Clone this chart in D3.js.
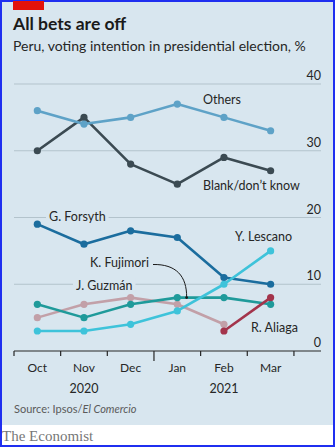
<!DOCTYPE html>
<html>
<head>
<meta charset="utf-8">
<script src="https://cdn.jsdelivr.net/npm/d3@7"></script>
<style>
  html, body { margin: 0; padding: 0; background: #fff; }
  svg { display: block; }
  text { font-family: Lato, "Open Sans", sans-serif; }
</style>
</head>
<body>
<div id="chart"></div>
<script>
// Monthly polls, Oct 2020 – Mar 2021
const months = ["Oct", "Nov", "Dec", "Jan", "Feb", "Mar"];
const yTicks = [0, 10, 20, 30, 40];

const others    = [36, 34, 35, 37, 35, 33];
const blank     = [30, 35, 28, 25, 29, 27];
const forsyth   = [19, 16, 18, 17, 11, 10];
const fujimori  = [7, 5, 7, 8, 8, 7];
const guzman    = [5, 7, 8, 7, 4, null];
const lescano   = [3, 3, 4, 6, 10, 15];
const aliaga    = [null, null, null, null, 3, 8];

const W = 335, H = 447;
const bg = "#d8e6ef";

const svg = d3.select("#chart").append("svg")
  .attr("width", W).attr("height", H);

svg.append("rect").attr("width", W).attr("height", H).attr("fill", "#fff");
svg.append("rect").attr("width", W).attr("height", 425).attr("fill", bg);

svg.append("text").attr("x", 13).attr("y", 30)
  .attr("font-size", 17.5).attr("font-weight", 700).attr("fill", "#1a1a1a")
  .text("All bets are off");
svg.append("text").attr("x", 13).attr("y", 51)
  .attr("font-size", 14).attr("fill", "#262626")
  .text("Peru, voting intention in presidential election, %");

const x = d3.scaleLinear().domain([-0.5, 6.08]).range([14, 321]);
const y = d3.scaleLinear().domain([0, 40]).range([351, 84]);

// gridlines + right-side labels
const grid = svg.append("g");
yTicks.filter(d => d > 0).forEach(t => {
  grid.append("line").attr("x1", x(-0.5)).attr("x2", x(6.08))
    .attr("y1", y(t)).attr("y2", y(t))
    .attr("stroke", "#b3c3cc").attr("stroke-width", 1);
});
yTicks.forEach(t => {
  grid.append("text").attr("x", 321).attr("y", y(t) - 4)
    .attr("text-anchor", "end").attr("font-size", 12.5).attr("fill", "#262626")
    .text(t);
});

// x axis
const axis = svg.append("g").attr("transform", `translate(0,${y(0)})`);
axis.append("line").attr("x1", x(-0.5)).attr("x2", x(6.08))
  .attr("stroke", "#262626").attr("stroke-width", 1.2);
d3.range(-0.5, 6, 1).forEach(i => {
  axis.append("line").attr("x1", x(i)).attr("x2", x(i))
    .attr("y1", 0).attr("y2", i === 2.5 ? 10 : 5)
    .attr("stroke", "#262626").attr("stroke-width", 1.2);
});
months.forEach((m, i) => {
  axis.append("text").attr("x", x(i)).attr("y", 21)
    .attr("text-anchor", "middle").attr("font-size", 12).attr("fill", "#262626").text(m);
});
axis.append("text").attr("x", x(1)).attr("y", 42)
  .attr("text-anchor", "middle").attr("font-size", 12.5).attr("fill", "#262626").text("2020");
axis.append("text").attr("x", x(4)).attr("y", 42)
  .attr("text-anchor", "middle").attr("font-size", 12.5).attr("fill", "#262626").text("2021");

// series labels; some sit on a background patch that breaks the gridline
function label(txt, lx, ly, opts = {}) {
  const t = svg.append("text").attr("x", lx).attr("y", ly)
    .attr("font-size", 12.5).attr("fill", "#262626").text(txt);
  if (opts.knockout) {
    const b = t.node().getBBox();
    svg.insert("rect", () => t.node()).attr("x", b.x - 3).attr("y", b.y)
      .attr("width", b.width + 6).attr("height", b.height).attr("fill", bg);
  }
  return t;
}

const lineGen = d3.line().defined(d => d != null).x((d, i) => x(i)).y(d => y(d));

const series = [
  { v: guzman,   c: "#c2a0a8" },
  { v: blank,    c: "#3b4a52" },
  { v: others,   c: "#5ea2c7" },
  { v: forsyth,  c: "#1b6d9e" },
  { v: fujimori, c: "#1f9a9a" },
  { v: lescano,  c: "#3ec3da" },
  { v: aliaga,   c: "#a3344b" }
];

series.forEach(s => {
  const g = svg.append("g");
  g.append("path").attr("d", lineGen(s.v)).attr("fill", "none")
    .attr("stroke", s.c).attr("stroke-width", 2.6).attr("stroke-linejoin", "round");
  g.selectAll("circle").data(s.v.map((d, i) => [d, i]).filter(p => p[0] != null))
    .join("circle").attr("cx", p => x(p[1])).attr("cy", p => y(p[0]))
    .attr("r", 3.6).attr("fill", s.c);
});

label("Others", 203, 104);
label("Blank/don\u2019t know", 203, 190);
label("G. Forsyth", 49, 221, { knockout: true });
label("Y. Lescano", 235, 241);
label("K. Fujimori", 90, 267);
label("J. Guzm\u00e1n", 76, 290, { knockout: true });
label("R. Aliaga", 251, 332);

// leader from K. Fujimori label to its line
svg.append("path")
  .attr("d", `M153,264.5 C176,264 187,276 ${x(3.2)},${y(8)}`)
  .attr("fill", "none").attr("stroke", "#1a1a1a").attr("stroke-width", 1);
svg.append("circle").attr("cx", x(3.2)).attr("cy", y(8)).attr("r", 1.4).attr("fill", "#1a1a1a");

svg.append("text").attr("x", 14).attr("y", 413)
  .attr("font-size", 11).attr("fill", "#5a5a5a")
  .html('Source: Ipsos/<tspan font-style="italic">El Comercio</tspan>');

svg.append("text").attr("x", 2).attr("y", 441)
  .style("font-family", "'Liberation Serif', 'DejaVu Serif', serif")
  .attr("font-size", 15).attr("fill", "#777").text("The Economist");

// frame
svg.append("rect").attr("x", 1).attr("y", 1).attr("width", W - 2).attr("height", H - 2)
  .attr("fill", "none").attr("stroke", "#1f2ff0").attr("stroke-width", 2);

// red tag
svg.append("rect").attr("x", 13).attr("y", 1).attr("width", 31).attr("height", 9).attr("fill", "#e3120b");
</script>
</body>
</html>
